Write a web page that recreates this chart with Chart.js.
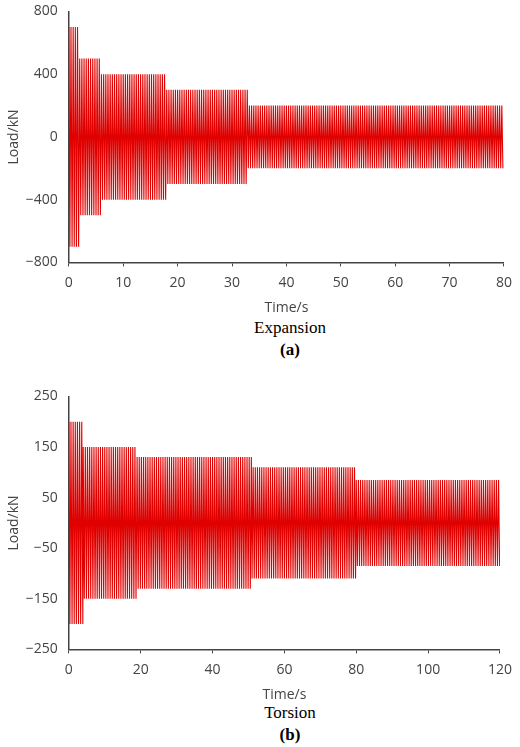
<!DOCTYPE html>
<html><head><meta charset="utf-8">
<script src="https://cdn.jsdelivr.net/npm/chart.js@4"></script>
<style>
body{margin:0;width:520px;height:747px;background:#fff;position:relative;font-family:"Liberation Serif",serif}
.c{position:absolute;left:0}
.cap{position:absolute;text-align:center;color:#000;font-size:17px;line-height:20px}
</style></head><body>
<div class="c" style="top:0;width:520px;height:316px"><canvas id="a"></canvas></div>
<div class="cap" style="left:30px;width:520px;top:318px">Expansion</div>
<div class="cap" style="left:30px;width:520px;top:340px;font-weight:bold">(a)</div>
<div class="c" style="top:385px;width:520px;height:318px"><canvas id="b"></canvas></div>
<div class="cap" style="left:30px;width:520px;top:703px">Torsion</div>
<div class="cap" style="left:30px;width:520px;top:725px;font-weight:bold">(b)</div>
<script>
// Expansion: load segments (s, s, kN)
const expStart=[0,2,6,18,33];
const expEnd=[2,6,18,33,80];
const expAmp=[700,500,400,300,200];
const expHalf=0.2;
// Torsion
const torStart=[0,4,19,51,80];
const torEnd=[4,19,51,80,120];
const torAmp=[200,150,130,110,85];
const torHalf=0.3;
const expTicks=[-800,-400,0,400,800];
const torTicks=[-250,-150,-50,50,150,250];

function build(st,en,amp,h){
  const pts=[];let s=1;
  for(let i=0;i<st.length;i++){
    for(let t=st[i];t<en[i]-1e-9;t+=h){pts.push({x:t,y:s*amp[i]});s=-s;}
  }
  return pts;
}
const F={family:'Open Sans',size:14};
function mk(id,data,xmax,xstep,ymin,ymax,ticks,padR){
  new Chart(document.getElementById(id),{type:'line',
    data:{datasets:[{data:data,borderColor:'#e00000',borderWidth:1.1,pointRadius:0,tension:0}]},
    options:{responsive:true,maintainAspectRatio:false,animation:false,
      layout:{padding:{top:8,right:padR,left:6}},
      plugins:{legend:{display:false},tooltip:{enabled:false}},
      scales:{
        x:{type:'linear',min:0,max:xmax,ticks:{stepSize:xstep,color:'#444',font:F,padding:8},
          grid:{drawOnChartArea:false,color:'#444',tickLength:4},border:{color:'#444',width:1.5},
          title:{display:true,text:'Time/s',color:'#444',font:F,padding:{top:0,bottom:0}}},
        y:{min:ymin,max:ymax,afterBuildTicks:ax=>{ax.ticks=ticks.map(v=>({value:v}));},
          ticks:{color:'#444',font:F,callback:v=>String(v).replace('-','\u2212')},
          grid:{display:false},border:{color:'#444',width:1.5},
          title:{display:true,text:'Load/kN',color:'#444',font:F,padding:0}}
      }}});
}
mk('a',build(expStart,expEnd,expAmp,expHalf),80,10,-800,800,expTicks,-8);
mk('b',build(torStart,torEnd,torAmp,torHalf),120,20,-250,250,torTicks,2);
</script></body></html>
